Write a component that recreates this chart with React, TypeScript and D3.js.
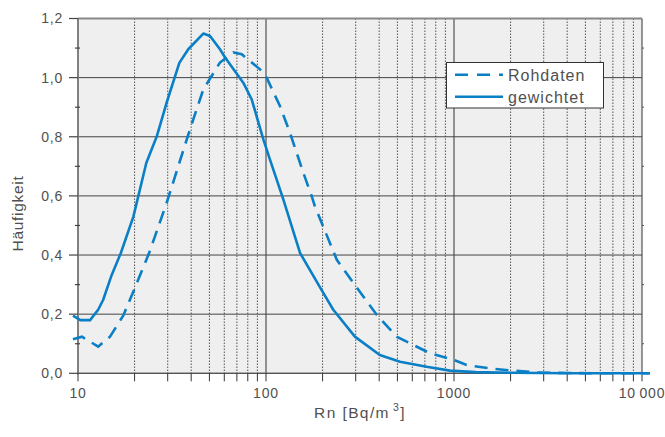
import React from "react";
import * as d3 from "d3";

// Rn concentration (Bq/m3) and frequency
const rohX = [9.4, 10.5, 12.8, 14.8, 17.4, 20.1, 24, 29.6, 39.4, 46.4, 56.9, 67, 74.3, 93, 100.8, 118.6, 134, 158, 175, 182, 238, 292, 388, 495, 744, 1000, 1167, 1617, 2066, 2755, 4000, 6000, 11000];
const rohY = [0.115, 0.124, 0.09, 0.124, 0.195, 0.29, 0.41, 0.576, 0.825, 0.96, 1.051, 1.085, 1.079, 1.028, 1.0, 0.904, 0.814, 0.678, 0.599, 0.565, 0.384, 0.305, 0.198, 0.124, 0.068, 0.045, 0.028, 0.015, 0.009, 0.003, 0.001, 0.0, 0.0];

const gewX = [9.4, 10.3, 11.6, 12.8, 13.6, 15, 16.9, 19.7, 23.1, 26.2, 29.6, 34.6, 38.6, 46.4, 50.4, 56.9, 60.6, 75.7, 84, 96.8, 105, 123.6, 151.7, 202, 228, 297, 403, 516, 715, 952, 1300, 2000, 4000, 11000];
const gewY = [0.195, 0.18, 0.18, 0.215, 0.248, 0.327, 0.407, 0.53, 0.712, 0.8, 0.915, 1.05, 1.096, 1.149, 1.141, 1.096, 1.068, 0.983, 0.926, 0.791, 0.723, 0.588, 0.407, 0.271, 0.215, 0.124, 0.062, 0.039, 0.022, 0.009, 0.004, 0.002, 0.0, 0.0];

const yTicks = [0, 0.2, 0.4, 0.6, 0.8, 1.0, 1.2];
const xTickLabels = ["10", "100", "1000", "10\u2009000"];
const seriesNames = ["Rohdaten", "gewichtet"];

const blue = "#0a7fc6";
const txt = "#505050";
const font = "'Liberation Sans', Arial, sans-serif";

export default function App() {
  const width = 665, height = 437;
  const left = 78, right = 642, top = 18.5, bottom = 373.3;

  const x = d3.scaleLog().domain([10, 10000]).range([left, right]);
  const y = d3.scaleLinear().domain([0, 1.2]).range([bottom, top]);

  const line = d3.line<[number, number]>()
    .x(d => x(d[0]))
    .y(d => y(d[1]));

  const roh: [number, number][] = rohX.map((v, i) => [v, rohY[i]]);
  const gew: [number, number][] = gewX.map((v, i) => [v, gewY[i]]);

  // minor ticks 2..9 of each decade
  const minors: number[] = [];
  [10, 100, 1000].forEach(d => {
    for (let k = 2; k <= 9; k++) minors.push(d * k);
  });
  const decades = [10, 100, 1000, 10000];
  const yMinor = d3.range(1, 12, 2).map(v => v / 10);

  const fmt = (v: number) => d3.format(".1f")(v).replace(".", ",");

  return (
    <svg width={width} height={height} style={{ position: "absolute", left: 0, top: 0 }}>
      <defs>
        <clipPath id="plot">
          <rect x={left - 8} y={top - 5} width={right - left + 16} height={bottom - top + 8} />
        </clipPath>
      </defs>
      <rect x={left} y={top} width={right - left} height={bottom - top} fill="#efefef" />

      {/* vertical grid */}
      {minors.map(v => (
        <line key={"m" + v} x1={x(v)} x2={x(v)} y1={top} y2={bottom}
          stroke="#444" strokeWidth={0.9} strokeDasharray="1.5,1.5" />
      ))}
      {decades.slice(1).map(v => (
        <line key={"d" + v} x1={x(v)} x2={x(v)} y1={top} y2={bottom} stroke="#333" strokeWidth={1} />
      ))}
      {/* horizontal grid */}
      {yTicks.map(v => (
        <line key={"h" + v} x1={left} x2={right} y1={y(v)} y2={y(v)}
          stroke={v === 1.2 ? "#888" : "#444"} strokeWidth={v === 1.2 ? 2 : 1} />
      ))}

      {/* axes */}
      <line x1={left} x2={left} y1={top} y2={bottom + 1} stroke="#808080" strokeWidth={2} />
      <line x1={left} x2={right} y1={bottom} y2={bottom} stroke="#555" strokeWidth={1.2} />
      {yTicks.map(v => (
        <line key={"yt" + v} x1={left - 9} x2={left} y1={y(v)} y2={y(v)} stroke="#444" strokeWidth={1.2} />
      ))}
      {yMinor.map(v => (
        <g key={"ym" + v}>
          <line x1={left - 3} x2={left + 2} y1={y(v)} y2={y(v)} stroke="#444" strokeWidth={1.2} />
          <line x1={right} x2={right + 2} y1={y(v)} y2={y(v)} stroke="#555" strokeWidth={1} />
        </g>
      ))}
      {decades.concat(minors).map(v => (
        <line key={"xt" + v} x1={x(v)} x2={x(v)} y1={bottom} y2={bottom + 8} stroke="#333" strokeWidth={1} />
      ))}

      {/* tick labels */}
      {yTicks.map(v => (
        <text key={"yl" + v} x={63} y={y(v)} dy="0.35em" textAnchor="end"
          fontFamily={font} fontSize={14} fill={txt} letterSpacing={0.8}>{fmt(v)}</text>
      ))}
      {decades.map((v, i) => (
        <text key={"xl" + v} x={x(v)} y={398} textAnchor="middle"
          fontFamily={font} fontSize={14} fill={txt} letterSpacing={0.8}>{xTickLabels[i]}</text>
      ))}

      {/* axis titles */}
      <text x={360} y={418.3} textAnchor="middle" fontFamily={font} fontSize={15.5} fill={txt} letterSpacing={1.4}>
        Rn [Bq/m<tspan dx={3} dy={-7} fontSize={10.5}>3</tspan><tspan dy={7}>]</tspan>
      </text>
      <text transform="translate(22.5,213.5) rotate(-90)" textAnchor="middle"
        fontFamily={font} fontSize={15.5} fill={txt} letterSpacing={0.7}>Häufigkeit</text>

      {/* curves */}
      <g clipPath="url(#plot)">
        <path d={line(roh) ?? ""} fill="none" stroke={blue} strokeWidth={2.6}
          strokeDasharray="13,8" />
        <path d={line(gew) ?? ""} fill="none" stroke={blue} strokeWidth={2.6} strokeLinejoin="round" />
      </g>

      {/* legend */}
      <g>
        <rect x={446.5} y={62.5} width={157} height={45.5} fill="#fff" stroke="#333" strokeWidth={1} />
        <line x1={455} x2={503} y1={74.7} y2={74.7} stroke={blue} strokeWidth={2.6} strokeDasharray="13,9" />
        <line x1={455} x2={503} y1={96.7} y2={96.7} stroke={blue} strokeWidth={2.6} />
        {seriesNames.map((s, i) => (
          <text key={s} x={508} y={80.5 + i * 22} fontFamily={font} fontSize={16} fill={txt}
            letterSpacing={1}>{s}</text>
        ))}
      </g>
    </svg>
  );
}
